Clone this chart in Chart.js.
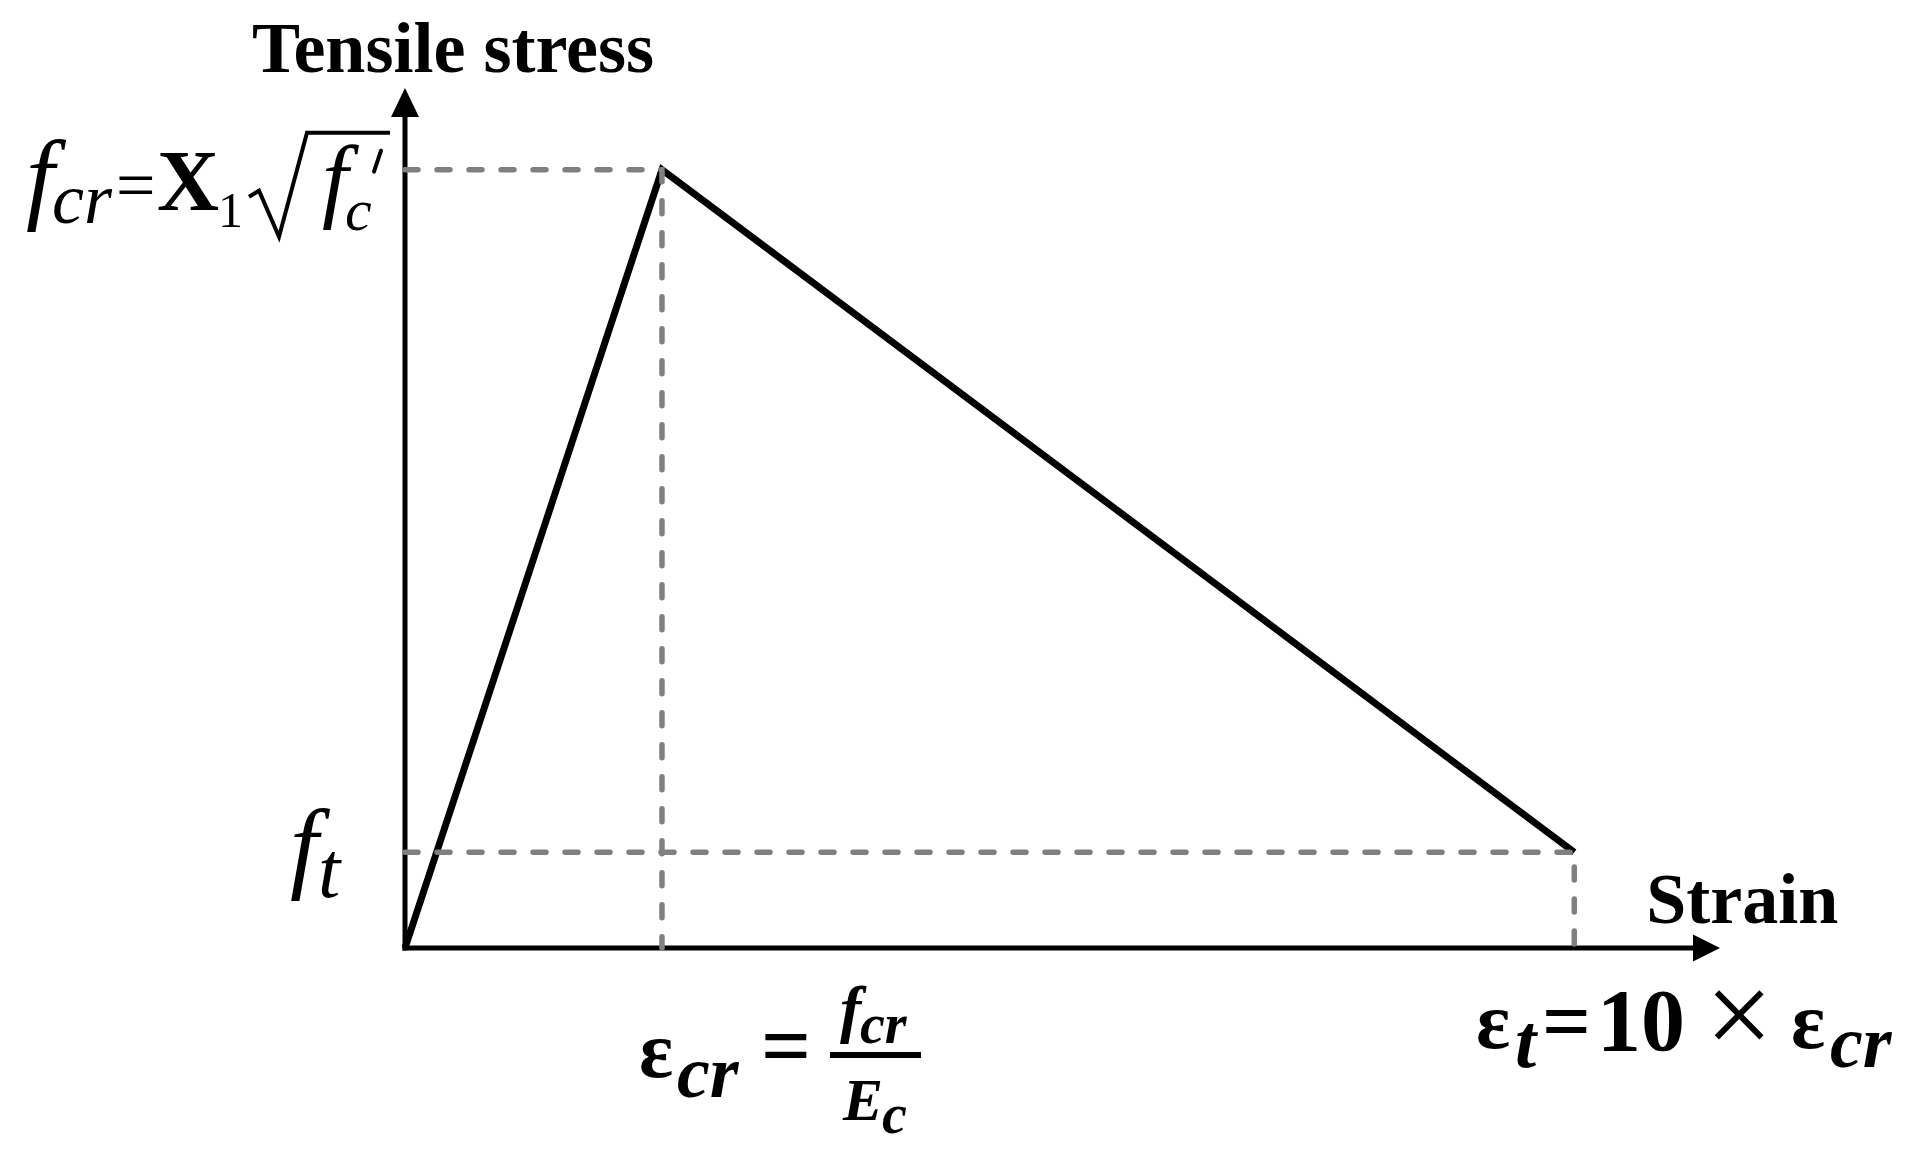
<!DOCTYPE html>
<html>
<head>
<meta charset="utf-8">
<script src="https://cdn.jsdelivr.net/npm/chart.js@4.4.1/dist/chart.umd.min.js"></script>
<style>
  html, body { margin: 0; padding: 0; background: #fff; }
  canvas { display: block; }
</style>
</head>
<body>
<canvas id="tensionChart" width="1910" height="1150"></canvas>
<script>
// schematic tension softening curve, strain in units of eps_cr, stress in units of f_cr
const strainPts = [0, 1, 4.55];
const stressPts = [0, 1, 0.123];
const axisMax = { x: 5.117, y: 1.105 };

const SERIF = '"Liberation Serif", "Times New Roman", serif';

const curve = strainPts.map((x, i) => ({ x, y: stressPts[i] }));
const peak = curve[1];
const last = curve[2];
const peakGuide = [{ x: 0, y: peak.y }, { x: peak.x, y: peak.y }, { x: peak.x, y: 0 }];
const endGuide = [{ x: 0, y: last.y }, { x: last.x, y: last.y }, { x: last.x, y: 0 }];

function txt(ctx, s, x, y, font, align) {
    ctx.font = font;
    ctx.textAlign = align || 'left';
    ctx.textBaseline = 'alphabetic';
    ctx.fillText(s, x, y);
}

const axesAndLabels = {
    id: 'axesAndLabels',
    beforeDatasetsDraw(chart) {
        const ctx = chart.ctx;
        const xs = chart.scales.x, ys = chart.scales.y;
        const x0 = xs.getPixelForValue(0), y0 = ys.getPixelForValue(0);
        const xEnd = xs.getPixelForValue(axisMax.x), yEnd = ys.getPixelForValue(axisMax.y);
        ctx.save();
        ctx.strokeStyle = '#000';
        ctx.fillStyle = '#000';
        ctx.lineWidth = 5;
        ctx.lineCap = 'butt';
        // y axis
        ctx.beginPath();
        ctx.moveTo(x0, y0 + 2.5);
        ctx.lineTo(x0, yEnd + 26);
        ctx.stroke();
        ctx.beginPath();
        ctx.moveTo(x0, yEnd);
        ctx.lineTo(x0 - 14, yEnd + 29);
        ctx.lineTo(x0 + 14, yEnd + 29);
        ctx.closePath();
        ctx.fill();
        // x axis
        ctx.beginPath();
        ctx.moveTo(x0 - 2.5, y0);
        ctx.lineTo(xEnd - 24, y0);
        ctx.stroke();
        ctx.beginPath();
        ctx.moveTo(xEnd, y0);
        ctx.lineTo(xEnd - 27, y0 - 13.5);
        ctx.lineTo(xEnd - 27, y0 + 13.5);
        ctx.closePath();
        ctx.fill();
        ctx.restore();
    },
    afterDatasetsDraw(chart) {
        const ctx = chart.ctx;
        const xs = chart.scales.x, ys = chart.scales.y;
        const x0 = xs.getPixelForValue(0), y0 = ys.getPixelForValue(0);
        const yPk = ys.getPixelForValue(peak.y);
        const yFt = ys.getPixelForValue(last.y);
        const xLast = xs.getPixelForValue(last.x);
        ctx.save();
        ctx.fillStyle = '#000';
        ctx.strokeStyle = '#000';

        // axis titles
        txt(ctx, 'Tensile stress', x0 - 153, 72, 'bold 72px ' + SERIF);
        txt(ctx, 'Strain', xLast + 72, y0 - 25, 'bold 72px ' + SERIF);

        // f_cr = X_1 sqrt(f'_c)
        const b = yPk + 40;
        txt(ctx, 'f', 26, b, 'italic 102px ' + SERIF);
        txt(ctx, 'cr', 52, b + 13, 'italic 72px ' + SERIF);
        txt(ctx, '=', 116, b - 1, '70px ' + SERIF);
        txt(ctx, 'X', 157, b, 'bold 86px ' + SERIF);
        txt(ctx, '1', 218, b + 17, '50px ' + SERIF);
        ctx.lineWidth = 4;
        ctx.lineJoin = 'miter';
        ctx.beginPath();
        ctx.moveTo(249, b - 13);
        ctx.lineTo(259, b - 19);
        ctx.lineTo(279, b + 27);
        ctx.lineTo(307, b - 77);
        ctx.lineTo(390, b - 77);
        ctx.stroke();
        txt(ctx, 'f', 322, b, 'italic 94px ' + SERIF);
        txt(ctx, 'c', 345, b + 20, 'italic 60px ' + SERIF);
        ctx.lineCap = 'round';
        ctx.beginPath();
        ctx.moveTo(381, b - 59);
        ctx.lineTo(374, b - 38);
        ctx.stroke();

        // f_t
        txt(ctx, 'f', 290, yFt + 27, 'italic 102px ' + SERIF);
        txt(ctx, 't', 318, yFt + 45, 'italic 80px ' + SERIF);

        // eps_cr = f_cr / E_c
        const eb = y0 + 129;
        txt(ctx, 'ε', 639, eb, 'bold 80px ' + SERIF);
        txt(ctx, 'cr', 677, eb + 20, 'bold italic 74px ' + SERIF);
        txt(ctx, '=', 761, eb - 1, 'bold 88px ' + SERIF);
        txt(ctx, 'f', 840, eb - 47, 'bold italic 64px ' + SERIF);
        txt(ctx, 'cr', 860, eb - 34, 'bold italic 56px ' + SERIF);
        ctx.fillRect(830, eb - 25, 91, 6);
        txt(ctx, 'E', 843, eb + 43, 'bold italic 60px ' + SERIF);
        txt(ctx, 'c', 882, eb + 56, 'bold italic 56px ' + SERIF);

        // eps_t = 10 x eps_cr
        const tb = y0 + 100;
        txt(ctx, 'ε', 1476, tb, 'bold 80px ' + SERIF);
        txt(ctx, 't', 1515, tb + 19, 'bold italic 76px ' + SERIF);
        txt(ctx, '=', 1542, tb + 2, 'bold 86px ' + SERIF);
        txt(ctx, '10', 1597, tb + 2, 'bold 88px ' + SERIF);
        txt(ctx, '×', 1739, tb + 7, '120px ' + SERIF, 'center');
        txt(ctx, 'ε', 1791, tb, 'bold 80px ' + SERIF);
        txt(ctx, 'cr', 1830, tb + 19, 'bold italic 74px ' + SERIF);
        ctx.restore();
    }
};

const guideStyle = {
    borderColor: '#808080',
    borderWidth: 5.5,
    borderDash: [13, 19],
    borderCapStyle: 'round',
    pointRadius: 0,
    showLine: true,
    fill: false,
    clip: false
};

new Chart(document.getElementById('tensionChart').getContext('2d'), {
    type: 'scatter',
    data: {
        datasets: [
            { label: 'peak guide', data: peakGuide, ...guideStyle },
            { label: 'end guide', data: endGuide, ...guideStyle },
            {
                label: 'tension curve',
                data: curve,
                borderColor: '#000',
                borderWidth: 7,
                borderJoinStyle: 'miter',
                pointRadius: 0,
                showLine: true,
                fill: false,
                tension: 0,
                clip: false
            }
        ]
    },
    options: {
        responsive: false,
        animation: false,
        layout: { padding: { left: 405, right: 190, top: 88, bottom: 202 } },
        plugins: { legend: { display: false }, tooltip: { enabled: false } },
        scales: {
            x: { type: 'linear', min: 0, max: axisMax.x, display: false },
            y: { type: 'linear', min: 0, max: axisMax.y, display: false }
        }
    },
    plugins: [axesAndLabels]
});
</script>
</body>
</html>
